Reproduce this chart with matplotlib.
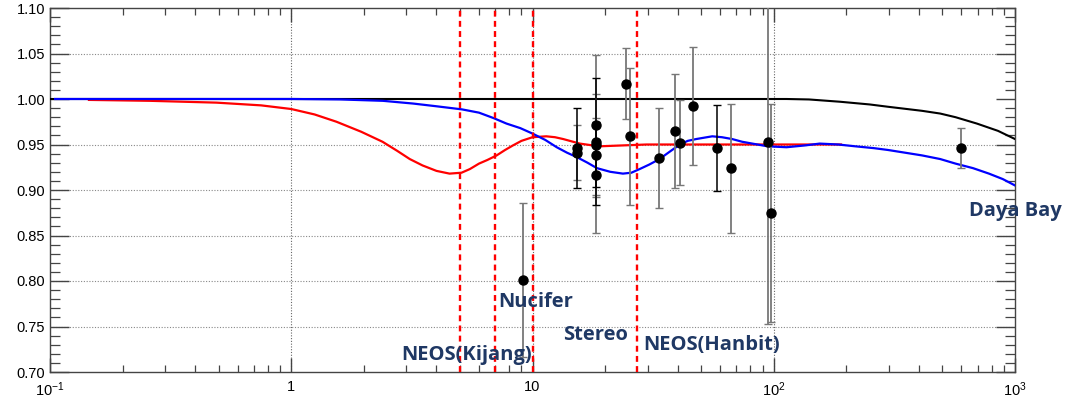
import numpy as np
import matplotlib
matplotlib.use("Agg")
import matplotlib.pyplot as plt
from matplotlib.ticker import MultipleLocator, LogLocator, FixedLocator, FixedFormatter, NullFormatter

plt.rcParams['font.family'] = ['Liberation Sans', 'DejaVu Sans']
plt.rcParams['mathtext.default'] = 'regular'

# curves (baseline, model A, model B)
black_x = [0.1, 50, 113, 140, 188, 250, 297, 412, 490, 567, 695, 850, 1000]
black_y = [1.000, 1.000, 1.000, 0.9995, 0.997, 0.994, 0.9915, 0.987, 0.984, 0.980, 0.973, 0.965, 0.956]

red_x = [0.145, 0.26, 0.49, 0.75, 1.0, 1.25, 1.54, 1.95, 2.39, 2.75, 3.1, 3.5, 4.0, 4.53, 5.08,
         5.5, 6.0, 6.5, 7.1, 7.7, 8.3, 9.0, 10.0, 11.4, 12.4, 13.4, 15.7, 18.9, 23.7, 29.7, 50, 100, 190]
red_y = [0.999, 0.998, 0.996, 0.993, 0.989, 0.983, 0.975, 0.964, 0.953, 0.943, 0.934, 0.927, 0.921, 0.918, 0.919,
         0.923, 0.929, 0.933, 0.938, 0.944, 0.949, 0.954, 0.958, 0.959, 0.958, 0.956, 0.951, 0.948, 0.949, 0.950, 0.950, 0.950, 0.950]

blue_x = [0.105, 1.0, 1.6, 2.4, 3.2, 4.0, 5.1, 6.0, 6.9, 7.8, 8.9, 10, 11.3, 12.6, 13.9, 15.3, 16.9, 18.5, 21, 23.7,
          25.7, 27.8, 30.5, 33.6, 37, 40.8, 44, 47.7, 55.6, 61, 67.2, 74, 81.5, 94.2, 113, 135, 155, 185, 218, 260,
          297, 350, 412, 490, 567, 670, 780, 890, 1000]
blue_y = [1.000, 1.000, 0.9995, 0.998, 0.995, 0.992, 0.9886, 0.985, 0.979, 0.973, 0.968, 0.962, 0.955, 0.947, 0.941,
          0.936, 0.930, 0.924, 0.920, 0.918, 0.919, 0.923, 0.928, 0.934, 0.942, 0.950, 0.954, 0.956, 0.959, 0.958,
          0.956, 0.953, 0.951, 0.948, 0.947, 0.949, 0.951, 0.950, 0.948, 0.946, 0.944, 0.941, 0.938, 0.934, 0.929,
          0.924, 0.918, 0.912, 0.905]

# measured ratios (black error bars / grey error bars)
dark_x = [15.3, 18.4, 18.4, 58.0]
dark_y = [0.946, 0.953, 0.939, 0.946]
dark_err = [0.044, 0.070, 0.036, 0.047]

grey_x = [9.12, 15.3, 18.4, 18.4, 18.4, 24.4, 25.4, 33.6, 39.0, 41.0, 46.4, 66.7, 94.9, 97.7, 597]
grey_y = [0.801, 0.941, 0.971, 0.949, 0.916, 1.017, 0.959, 0.935, 0.965, 0.952, 0.992, 0.924, 0.953, 0.875, 0.946]
grey_err = [0.085, 0.030, 0.077, 0.057, 0.063, 0.039, 0.075, 0.055, 0.063, 0.047, 0.065, 0.071, 0.200, 0.120, 0.022]

exp_lines = [5, 7, 10, 27]
exp_labels = ["NEOS(Kijang)", "Nucifer", "Stereo", "NEOS(Hanbit)", "Daya Bay"]
label_pos = [(2.87, 0.719), (7.23, 0.777), (13.4, 0.741), (28.8, 0.730), (644, 0.877)]

fig = plt.figure(figsize=(10.65, 3.99), dpi=100)
ax = fig.add_axes([50 / 1065, 1 - 372 / 399, 965 / 1065, 364 / 399])
ax.set_xscale('log')
ax.set_xlim(0.1, 1000)
ax.set_ylim(0.70, 1.10)

for yg in [0.75, 0.80, 0.85, 0.90, 0.95, 1.05]:
    ax.axhline(yg, color='#888888', lw=0.8, ls=(0, (1, 1.5)), zorder=0)
for xg in [1, 10, 100]:
    ax.axvline(xg, color='#666666', lw=0.8, ls=(0, (1, 1.5)), zorder=0)

ax.plot(black_x, black_y, color='black', lw=1.5, zorder=3)
ax.plot(red_x, red_y, color='#ff0000', lw=1.6, zorder=3)
ax.plot(blue_x, blue_y, color='#0000ff', lw=1.6, zorder=4)

for xv in exp_lines:
    ax.axvline(xv, color='#ff0000', lw=1.7, ls=(0, (2.5, 1.8)), zorder=5)

ax.errorbar(grey_x, grey_y, yerr=grey_err, fmt='none', ecolor='#777777', elinewidth=1.3,
            capsize=3, capthick=1.0, zorder=6)
ax.errorbar(dark_x, dark_y, yerr=dark_err, fmt='none', ecolor='black', elinewidth=1.1,
            capsize=3, capthick=1.0, zorder=6)
ax.plot(grey_x + dark_x, grey_y + dark_y, 'o', color='black', ms=6.5, zorder=7)

for txt, (tx, ty) in zip(exp_labels, label_pos):
    ax.text(tx, ty, txt, color='#1f3864', fontsize=14.5, fontweight='bold',
            family=['Open Sans', 'DejaVu Sans'], ha='left', va='center', zorder=8, clip_on=False)

ax.yaxis.set_major_locator(MultipleLocator(0.05))
ax.yaxis.set_minor_locator(MultipleLocator(0.01))
ax.yaxis.set_major_formatter(matplotlib.ticker.FormatStrFormatter('%.2f'))
ax.xaxis.set_major_locator(FixedLocator([0.1, 1, 10, 100, 1000]))
ax.xaxis.set_major_formatter(FixedFormatter(['$10^{-1}$', '1', '10', '$10^2$', '$10^3$']))
ax.xaxis.set_minor_locator(LogLocator(base=10, subs=np.arange(2, 10), numticks=20))
ax.xaxis.set_minor_formatter(NullFormatter())

ax.tick_params(which='both', direction='in', top=True, right=True, colors='#444444',
               labelcolor='black', labelsize=10.5)
ax.tick_params(which='major', length=14, width=1.0)
ax.tick_params(which='minor', length=7, width=0.9)
ax.tick_params(axis='x', which='major', length=10, pad=6)
ax.tick_params(axis='x', which='minor', length=5)
for sp in ax.spines.values():
    sp.set_color('#444444')
    sp.set_linewidth(1.0)

fig.savefig('out.png', dpi=100)
